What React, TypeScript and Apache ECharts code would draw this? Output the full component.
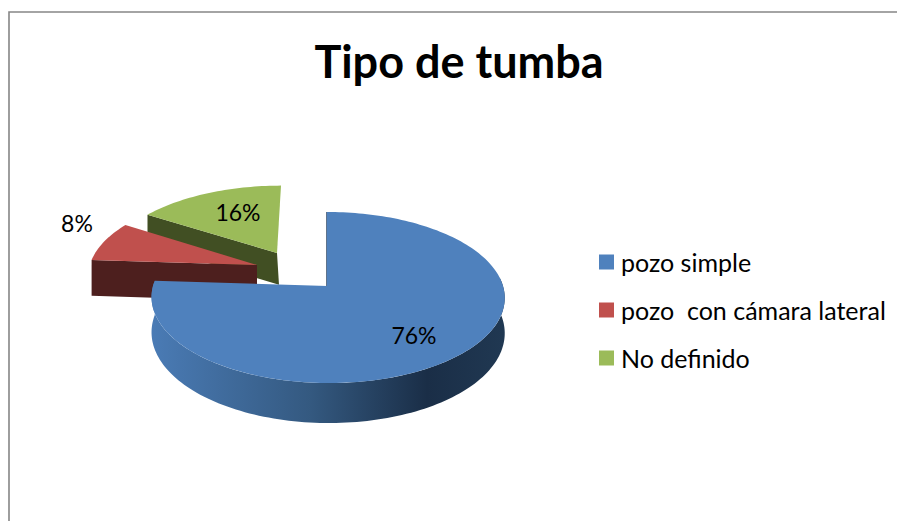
import React, { useEffect, useRef } from "react";
import * as echarts from "echarts";

const categories = ["pozo simple", "pozo  con cámara lateral", "No definido"];
const shares = [76, 8, 16];
const topColors = ["#4F81BD", "#C0504D", "#9BBB59"];
const cutColors = ["#2A4565", "#4D1F1E", "#414F23"];
const chartTitle = "Tipo de tumba";

const RADIUS_X = 175;
const RADIUS_Y = 84;
const PERSPECTIVE = 0.1345;
const DEPTH = 34.6;
// apex position and scale of each exploded slice
const layouts = [
  { ox: 328, oy: 286, sx: 1, sy: 1, shear: -1, depth: 1, lx: 414, ly: 335 },
  { ox: 257, oy: 265, sx: 0.955, sy: 0.95, shear: 0, depth: 1.04, lx: 77, ly: 223 },
  { ox: 277, oy: 253, sx: 0.955, sy: 0.91, shear: 4, depth: 0.92, lx: 238, ly: 212 },
];

const project = (deg: number, l: (typeof layouts)[number], drop = 0) => {
  const a = (deg * Math.PI) / 180;
  const u = Math.sin(a);
  const v = -Math.cos(a);
  const w = 1 - PERSPECTIVE * v;
  return [
    l.ox + (l.sx * RADIUS_X * u) / w - l.shear * v,
    l.oy + (l.sy * RADIUS_Y * v) / w + (drop * DEPTH * l.depth) / w,
  ];
};

const arc = (from: number, to: number, l: (typeof layouts)[number], drop = 0) => {
  const pts: number[][] = [];
  const n = Math.max(4, Math.ceil(Math.abs(to - from) / 1.5));
  for (let i = 0; i <= n; i++) pts.push(project(from + ((to - from) * i) / n, l, drop));
  return pts;
};

const total = shares.reduce((a, b) => a + b, 0);

const renderSlice = (index: number) => (_params: any, api: any) => {
  const value = api.value(0) as number;
  const before = shares.slice(0, index).reduce((a, b) => a + b, 0);
  const start = (before / total) * 360;
  const end = start + (value / total) * 360;
  const l = layouts[index];
  const apex = [l.ox - (index === 0 ? 1 : 0), l.oy];
  const children: any[] = [];

  if (index === 0) {
    const rimFrom = 84;
    children.push({
      type: "polygon",
      z2: 1,
      shape: { points: [...arc(rimFrom, end, l), ...arc(end, rimFrom, l, 1)] },
      style: {
        fill: new echarts.graphic.LinearGradient(0, 0, 1, 0, [
          { offset: 0, color: "#4A7BB5" },
          { offset: 0.45, color: "#345980" },
          { offset: 0.78, color: "#1A2E47" },
          { offset: 1, color: "#203852" },
        ]),
      },
    });
    children.push({
      type: "line",
      z2: 1,
      shape: { x1: apex[0], y1: apex[1], x2: project(start, l)[0], y2: project(start, l)[1] },
      style: { stroke: cutColors[0], lineWidth: 1.5 },
    });
  } else {
    const corner = project(start, l);
    const cornerLow = project(start, l, 1);
    const apexLow = [l.ox + l.shear / 2, l.oy + DEPTH * l.depth];
    children.push({
      type: "polygon",
      z2: 1,
      shape: { points: [corner, apex, apexLow, cornerLow] },
      style: { fill: cutColors[index] },
    });
  }

  children.push({
    type: "polygon",
    z2: 2,
    shape: { points: [apex, ...arc(start, end, l)] },
    style: { fill: topColors[index] },
  });
  children.push({
    type: "text",
    z2: 3,
    x: l.lx,
    y: l.ly,
    style: {
      text: `${value}%`,
      fill: "#000",
      font: "23px Lato",
      align: "center",
      verticalAlign: "middle",
    },
  });
  return { type: "group", children };
};

export default function App() {
  const ref = useRef<HTMLDivElement>(null);
  useEffect(() => {
    const chart = echarts.init(ref.current!, undefined, { renderer: "svg" });
    chart.setOption({
      animation: false,
      backgroundColor: "#fff",
      title: {
        text: chartTitle,
        left: 454,
        top: 33,
        textAlign: "center",
        textStyle: { fontFamily: "Lato", fontWeight: "bold", fontSize: 45, color: "#000" },
      },
      legend: {
        data: categories,
        orient: "vertical",
        left: 594,
        top: 244,
        icon: "rect",
        itemWidth: 15,
        itemHeight: 15,
        itemGap: 22,
        itemStyle: { borderWidth: 0 },
        textStyle: { fontFamily: "Lato", fontSize: 25, color: "#000", padding: [0, 0, 0, 2], lineHeight: 26 },
        selectedMode: false,
      },
      graphic: [
        {
          type: "polyline",
          shape: { points: [[9, 521], [9, 12], [897, 12]] },
          style: { stroke: "#868686", lineWidth: 1.6, fill: "none" },
        },
      ],
      series: categories.map((name, i) => ({
        type: "custom",
        name,
        coordinateSystem: "none",
        silent: true,
        z: i === 0 ? 4 : i === 1 ? 3 : 2,
        itemStyle: { color: topColors[i] },
        renderItem: renderSlice(i),
        data: [[shares[i]]],
      })),
    });
    return () => chart.dispose();
  }, []);
  return (
    <div
      ref={ref}
      style={{ position: "fixed", left: 0, top: 0, width: 897, height: 521, background: "#fff" }}
    />
  );
}
